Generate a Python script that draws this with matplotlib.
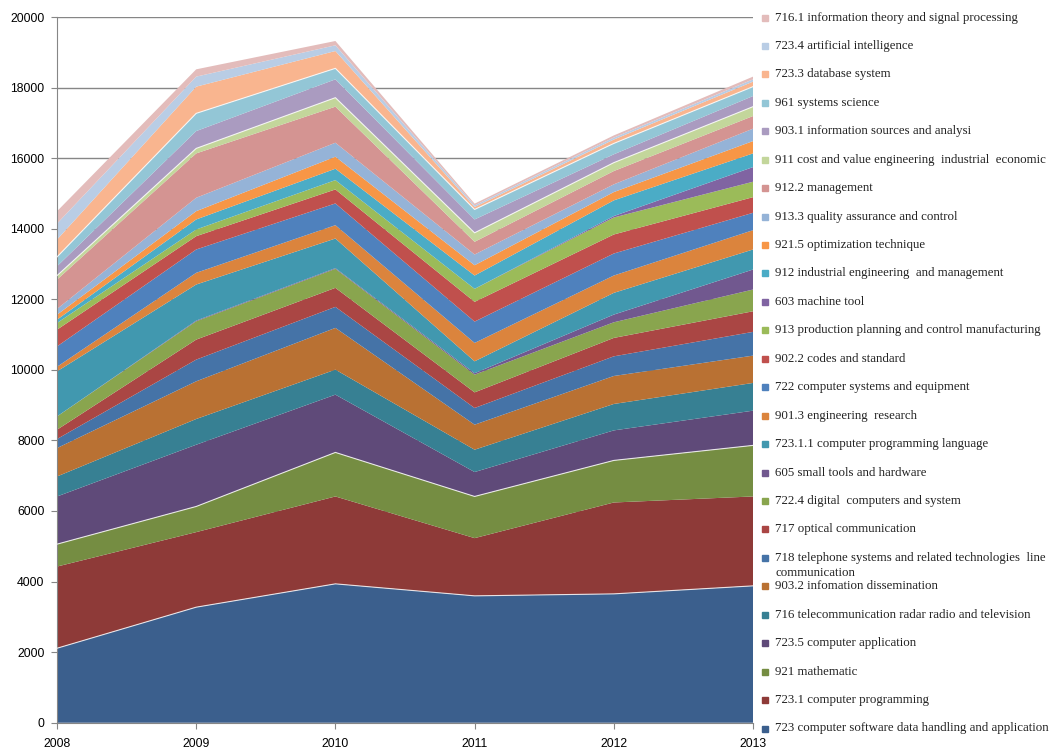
import numpy as np
import matplotlib.pyplot as plt
from matplotlib.patches import Rectangle

years = [2008, 2009, 2010, 2011, 2012, 2013]

# series, bottom of the stack first
labels = [
    "723 computer software data handling and application",
    "723.1 computer programming",
    "921 mathematic",
    "723.5 computer application",
    "716 telecommunication radar radio and television",
    "903.2 infomation dissemination",
    "718 telephone systems and related technologies  line\ncommunication",
    "717 optical communication",
    "722.4 digital  computers and system",
    "605 small tools and hardware",
    "723.1.1 computer programming language",
    "901.3 engineering  research",
    "722 computer systems and equipment",
    "902.2 codes and standard",
    "913 production planning and control manufacturing",
    "603 machine tool",
    "912 industrial engineering  and management",
    "921.5 optimization technique",
    "913.3 quality assurance and control",
    "912.2 management",
    "911 cost and value engineering  industrial  economic",
    "903.1 information sources and analysi",
    "961 systems science",
    "723.3 database system",
    "723.4 artificial intelligence",
    "716.1 information theory and signal processing",
]

s723 = [2110, 3274, 3935, 3595, 3651, 3878]
s723_1 = [2315, 2127, 2477, 1636, 2590, 2534]
s921 = [635, 727, 1248, 1181, 1192, 1447]
s723_5 = [1351, 1750, 1637, 692, 851, 984]
s716 = [567, 729, 709, 633, 749, 786]
s903_2 = [805, 1068, 1183, 709, 793, 774]
s718 = [256, 615, 596, 473, 557, 673]
s717 = [264, 567, 539, 443, 522, 584]
s722_4 = [377, 519, 539, 502, 443, 616]
s605 = [0, 20, 20, 40, 218, 567]
s723_1_1 = [1277, 1022, 839, 338, 616, 568]
s901_3 = [130, 332, 378, 521, 491, 547]
s722 = [577, 661, 616, 605, 624, 493]
s902_2 = [474, 377, 397, 559, 539, 443]
s913 = [189, 190, 264, 369, 482, 437]
s603 = [0, 0, 0, 0, 40, 415]
s912 = [94, 284, 323, 377, 445, 388]
s921_5 = [142, 235, 340, 292, 235, 349]
s913_3 = [162, 380, 397, 304, 219, 352]
s912_2 = [832, 1257, 1022, 360, 377, 358]
s911 = [113, 142, 255, 255, 238, 266]
s903_1 = [264, 491, 519, 378, 236, 301]
s961 = [266, 502, 312, 283, 309, 266]
s723_3 = [491, 757, 491, 70, 110, 142]
s723_4 = [454, 284, 162, 45, 55, 65]
s716_1 = [349, 207, 122, 50, 62, 77]

series = [s723, s723_1, s921, s723_5, s716, s903_2, s718, s717, s722_4, s605,
          s723_1_1, s901_3, s722, s902_2, s913, s603, s912, s921_5, s913_3,
          s912_2, s911, s903_1, s961, s723_3, s723_4, s716_1]

colors = ["#3b5f8d", "#8e3a38", "#758d42", "#5f4a79", "#378093", "#b97133",
          "#4573a7", "#aa4644", "#89a54e", "#71588f", "#4198af", "#db843d",
          "#4f81bd", "#c0504d", "#9bbb59", "#8064a2", "#4bacc6", "#f79646",
          "#95b3d7", "#d49492", "#c3d69b", "#aa9bc0", "#93c6d6", "#f9b58f",
          "#b9cde5", "#e3bcbb"]

W, H = 1062, 751
fig = plt.figure(figsize=(W / 100, H / 100), dpi=100)
ax = fig.add_axes([57 / W, 1 - 722.7 / H, (753 - 57) / W, (722.7 - 17) / H])

ax.stackplot(years, *series, colors=colors, linewidth=0, zorder=2)

# thin light seams that show on a few boundaries
tops = np.cumsum(np.array(series), axis=0)
for i in [0, 2, 20, 22]:
    ax.plot(years, tops[i], color="white", lw=0.8, alpha=0.8, zorder=3)

ax.set_xlim(2008, 2013)
ax.set_ylim(0, 20000)
ax.set_yticks(range(0, 20001, 2000))
ax.set_xticks(years)
ax.yaxis.grid(True, color="#868686", lw=1, zorder=0)
ax.set_axisbelow(True)
for side in ["top", "right"]:
    ax.spines[side].set_visible(False)
for side in ["left", "bottom"]:
    ax.spines[side].set_color("#868686")
ax.tick_params(axis="both", colors="#868686", length=4, labelcolor="black",
               labelsize=8.8)
ax.tick_params(axis="y", pad=5)
ax.tick_params(axis="x", pad=7)
for t in ax.get_xticklabels() + ax.get_yticklabels():
    t.set_family("Liberation Sans")

# legend, top entry = top of the stack
pitch = (730 - 19) / 25
for k, i in enumerate(range(len(labels) - 1, -1, -1)):
    y = 19 + k * pitch
    fig.patches.append(Rectangle((762 / W, 1 - (y + 1.5) / H), 6 / W, 6 / H,
                                 transform=fig.transFigure, color=colors[i]))
    fig.text(775 / W, 1 - (y - 7.5) / H, labels[i], va="top", ha="left",
             fontsize=9.3, family="Liberation Serif", color="#222222",
             linespacing=1.3)

fig.savefig("out.png", dpi=100)
